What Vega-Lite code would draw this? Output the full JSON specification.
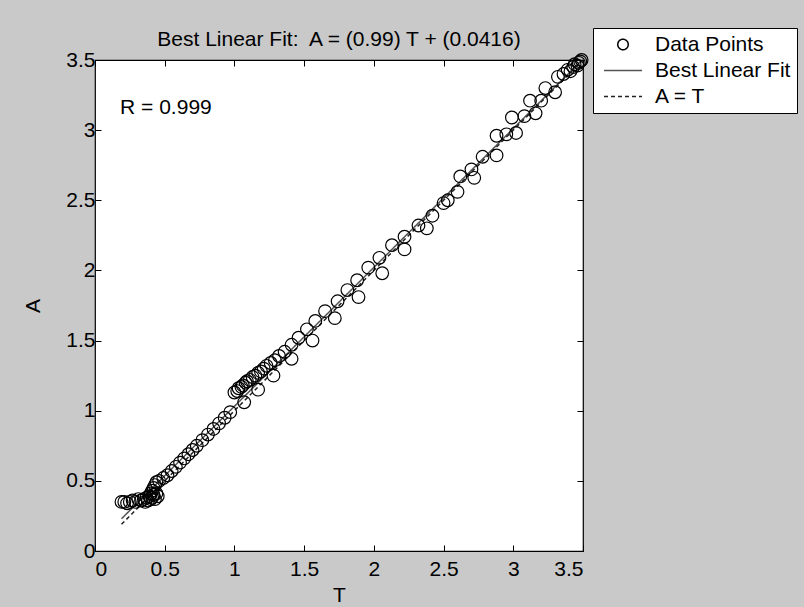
{
  "$schema": "https://vega.github.io/schema/vega-lite/v6.json",
  "width": 488,
  "height": 491,
  "autosize": {"type": "none"},
  "padding": {"left": 95, "top": 60, "right": 221, "bottom": 56},
  "background": "#c9c9c9",
  "config": {
    "font": "Liberation Sans",
    "view": {"fill": "white", "stroke": "black", "strokeWidth": 1.2},
    "axis": {
      "grid": false,
      "domain": false,
      "tickColor": "black",
      "tickSize": -6,
      "tickWidth": 1,
      "labelFontSize": 21,
      "labelColor": "black",
      "labelFont": "Liberation Sans",
      "titleFontSize": 21,
      "titleFontWeight": "normal",
      "titleColor": "black",
      "titleFont": "Liberation Sans"
    },
    "legend": {
      "orient": "none",
      "legendX": 498,
      "legendY": -32,
      "strokeColor": "black",
      "fillColor": "white",
      "padding": 6,
      "labelFontSize": 21,
      "labelColor": "black",
      "labelFont": "Liberation Sans",
      "symbolSize": 100,
      "symbolStrokeWidth": 1.5,
      "rowPadding": 4,
      "labelOffset": 13,
      "labelLimit": 300
    }
  },
  "title": {
    "text": "Best Linear Fit:\u00a0 A = (0.99) T + (0.0416)",
    "fontSize": 21,
    "fontWeight": "normal",
    "color": "black",
    "font": "Liberation Sans",
    "offset": 12,
    "dy": 34
  },
  "datasets": {
    "lines": [
      {"series": "Best Linear Fit", "T": 0.19, "A": 0.2297},
      {"series": "Best Linear Fit", "T": 3.49, "A": 3.4967},
      {"series": "A = T", "T": 0.19, "A": 0.19},
      {"series": "A = T", "T": 3.49, "A": 3.49}
    ],
    "note": [{"T": 0.18, "A": 3.16, "label": "R = 0.999"}],
    "points": [
      {"series": "Data Points", "T": 0.19, "A": 0.35},
      {"series": "Data Points", "T": 0.21, "A": 0.35},
      {"series": "Data Points", "T": 0.23, "A": 0.34},
      {"series": "Data Points", "T": 0.25, "A": 0.35},
      {"series": "Data Points", "T": 0.27, "A": 0.36},
      {"series": "Data Points", "T": 0.29, "A": 0.35},
      {"series": "Data Points", "T": 0.31, "A": 0.37},
      {"series": "Data Points", "T": 0.33, "A": 0.36},
      {"series": "Data Points", "T": 0.35, "A": 0.37},
      {"series": "Data Points", "T": 0.36, "A": 0.35},
      {"series": "Data Points", "T": 0.37, "A": 0.38},
      {"series": "Data Points", "T": 0.38, "A": 0.36},
      {"series": "Data Points", "T": 0.39, "A": 0.39},
      {"series": "Data Points", "T": 0.40, "A": 0.37},
      {"series": "Data Points", "T": 0.40, "A": 0.41},
      {"series": "Data Points", "T": 0.41, "A": 0.38},
      {"series": "Data Points", "T": 0.41, "A": 0.43},
      {"series": "Data Points", "T": 0.42, "A": 0.40},
      {"series": "Data Points", "T": 0.42, "A": 0.45},
      {"series": "Data Points", "T": 0.43, "A": 0.37},
      {"series": "Data Points", "T": 0.43, "A": 0.47},
      {"series": "Data Points", "T": 0.44, "A": 0.41},
      {"series": "Data Points", "T": 0.44, "A": 0.49},
      {"series": "Data Points", "T": 0.45, "A": 0.39},
      {"series": "Data Points", "T": 0.46, "A": 0.50},
      {"series": "Data Points", "T": 0.49, "A": 0.52},
      {"series": "Data Points", "T": 0.52, "A": 0.54},
      {"series": "Data Points", "T": 0.55, "A": 0.57},
      {"series": "Data Points", "T": 0.58, "A": 0.60},
      {"series": "Data Points", "T": 0.61, "A": 0.63},
      {"series": "Data Points", "T": 0.64, "A": 0.66},
      {"series": "Data Points", "T": 0.67, "A": 0.69},
      {"series": "Data Points", "T": 0.70, "A": 0.72},
      {"series": "Data Points", "T": 0.73, "A": 0.75},
      {"series": "Data Points", "T": 0.77, "A": 0.79},
      {"series": "Data Points", "T": 0.81, "A": 0.83},
      {"series": "Data Points", "T": 0.85, "A": 0.87},
      {"series": "Data Points", "T": 0.89, "A": 0.91},
      {"series": "Data Points", "T": 0.93, "A": 0.95},
      {"series": "Data Points", "T": 0.97, "A": 0.99},
      {"series": "Data Points", "T": 1.00, "A": 1.13},
      {"series": "Data Points", "T": 1.02, "A": 1.14},
      {"series": "Data Points", "T": 1.03, "A": 1.16},
      {"series": "Data Points", "T": 1.05, "A": 1.17},
      {"series": "Data Points", "T": 1.06, "A": 1.18},
      {"series": "Data Points", "T": 1.08, "A": 1.20},
      {"series": "Data Points", "T": 1.09, "A": 1.21},
      {"series": "Data Points", "T": 1.11, "A": 1.22},
      {"series": "Data Points", "T": 1.13, "A": 1.24},
      {"series": "Data Points", "T": 1.15, "A": 1.25},
      {"series": "Data Points", "T": 1.17, "A": 1.27},
      {"series": "Data Points", "T": 1.19, "A": 1.28},
      {"series": "Data Points", "T": 1.21, "A": 1.30},
      {"series": "Data Points", "T": 1.23, "A": 1.32},
      {"series": "Data Points", "T": 1.26, "A": 1.34},
      {"series": "Data Points", "T": 1.29, "A": 1.36},
      {"series": "Data Points", "T": 1.32, "A": 1.39},
      {"series": "Data Points", "T": 1.07, "A": 1.06},
      {"series": "Data Points", "T": 1.17, "A": 1.15},
      {"series": "Data Points", "T": 1.28, "A": 1.25},
      {"series": "Data Points", "T": 1.41, "A": 1.37},
      {"series": "Data Points", "T": 1.56, "A": 1.50},
      {"series": "Data Points", "T": 1.72, "A": 1.66},
      {"series": "Data Points", "T": 1.89, "A": 1.81},
      {"series": "Data Points", "T": 2.06, "A": 1.98},
      {"series": "Data Points", "T": 2.22, "A": 2.15},
      {"series": "Data Points", "T": 2.38, "A": 2.30},
      {"series": "Data Points", "T": 2.60, "A": 2.56},
      {"series": "Data Points", "T": 2.72, "A": 2.66},
      {"series": "Data Points", "T": 2.88, "A": 2.82},
      {"series": "Data Points", "T": 3.02, "A": 2.98},
      {"series": "Data Points", "T": 3.16, "A": 3.12},
      {"series": "Data Points", "T": 3.30, "A": 3.27},
      {"series": "Data Points", "T": 1.36, "A": 1.42},
      {"series": "Data Points", "T": 1.41, "A": 1.47},
      {"series": "Data Points", "T": 1.46, "A": 1.52},
      {"series": "Data Points", "T": 1.52, "A": 1.58},
      {"series": "Data Points", "T": 1.58, "A": 1.64},
      {"series": "Data Points", "T": 1.65, "A": 1.71},
      {"series": "Data Points", "T": 1.74, "A": 1.78},
      {"series": "Data Points", "T": 1.81, "A": 1.86},
      {"series": "Data Points", "T": 1.88, "A": 1.93},
      {"series": "Data Points", "T": 1.96, "A": 2.02},
      {"series": "Data Points", "T": 2.04, "A": 2.09},
      {"series": "Data Points", "T": 2.13, "A": 2.18},
      {"series": "Data Points", "T": 2.22, "A": 2.24},
      {"series": "Data Points", "T": 2.32, "A": 2.32},
      {"series": "Data Points", "T": 2.42, "A": 2.39},
      {"series": "Data Points", "T": 2.50, "A": 2.48},
      {"series": "Data Points", "T": 2.53, "A": 2.50},
      {"series": "Data Points", "T": 2.62, "A": 2.67},
      {"series": "Data Points", "T": 2.70, "A": 2.72},
      {"series": "Data Points", "T": 2.78, "A": 2.81},
      {"series": "Data Points", "T": 2.88, "A": 2.96},
      {"series": "Data Points", "T": 2.95, "A": 2.97},
      {"series": "Data Points", "T": 2.99, "A": 3.09},
      {"series": "Data Points", "T": 3.08, "A": 3.10},
      {"series": "Data Points", "T": 3.12, "A": 3.21},
      {"series": "Data Points", "T": 3.20, "A": 3.21},
      {"series": "Data Points", "T": 3.23, "A": 3.30},
      {"series": "Data Points", "T": 3.32, "A": 3.38},
      {"series": "Data Points", "T": 3.36, "A": 3.40},
      {"series": "Data Points", "T": 3.39, "A": 3.43},
      {"series": "Data Points", "T": 3.41, "A": 3.42},
      {"series": "Data Points", "T": 3.43, "A": 3.45},
      {"series": "Data Points", "T": 3.44, "A": 3.47},
      {"series": "Data Points", "T": 3.46, "A": 3.46},
      {"series": "Data Points", "T": 3.47, "A": 3.48},
      {"series": "Data Points", "T": 3.48, "A": 3.49},
      {"series": "Data Points", "T": 3.49, "A": 3.50}
    ]
  },
  "layer": [
    {
      "data": {"name": "lines"},
      "mark": {"type": "line", "strokeWidth": 1.5},
      "encoding": {
        "x": {"field": "T", "type": "quantitative", "scale": {"domain": [0, 3.5], "nice": false},
              "axis": {"orient": "top", "labels": false, "title": null, "values": [0, 0.5, 1, 1.5, 2, 2.5, 3, 3.5]}},
        "y": {"field": "A", "type": "quantitative", "scale": {"domain": [0, 3.5], "nice": false},
              "axis": {"orient": "right", "labels": false, "title": null, "values": [0, 0.5, 1, 1.5, 2, 2.5, 3, 3.5]}},
        "color": {"field": "series", "type": "nominal",
                  "scale": {"domain": ["Data Points", "Best Linear Fit", "A = T"], "range": ["#000000", "#555555", "#222222"]},
                  "legend": {
                    "title": null,
                    "encode": {
                      "symbols": {
                        "update": {
                          "x": {"value": 24},
                          "shape": {"signal": "datum.value === 'Data Points' ? 'circle' : 'M-2,0L2,0'"},
                          "size": {"signal": "datum.value === 'Data Points' ? 110 : 361"},
                          "fill": {"value": "transparent"},
                          "stroke": {"signal": "datum.value === 'Best Linear Fit' ? '#555555' : '#000000'"},
                          "strokeDash": {"signal": "datum.value === 'A = T' ? [4, 3] : [1, 0]"},
                          "strokeWidth": {"value": 1.5},
                          "opacity": {"value": 1}
                        }
                      },
                      "labels": {
                        "update": {
                          "x": {"value": 56}
                        }
                      }
                    }
                  }},
        "strokeDash": {"field": "series", "type": "nominal", "legend": null,
                       "scale": {"domain": ["Data Points", "Best Linear Fit", "A = T"], "range": [[1, 0], [1, 0], [4, 3]]}}
      }
    },
    {
      "data": {"name": "points"},
      "mark": {"type": "point", "filled": false, "size": 160, "strokeWidth": 1.2, "opacity": 1, "shape": "circle"},
      "encoding": {
        "x": {"field": "T", "type": "quantitative", "scale": {"domain": [0, 3.5], "nice": false},
              "axis": {"orient": "bottom", "title": "T", "values": [0, 0.5, 1, 1.5, 2, 2.5, 3, 3.5], "format": "~g", "labelPadding": 13, "titlePadding": 5}},
        "y": {"field": "A", "type": "quantitative", "scale": {"domain": [0, 3.5], "nice": false},
              "axis": {"orient": "left", "title": "A", "values": [0, 0.5, 1, 1.5, 2, 2.5, 3, 3.5], "format": "~g", "labelPadding": 6, "titlePadding": 22}},
        "color": {"field": "series", "type": "nominal",
                  "scale": {"domain": ["Data Points", "Best Linear Fit", "A = T"], "range": ["#000000", "#555555", "#222222"]}}
      }
    },
    {
      "data": {"name": "note"},
      "mark": {"type": "text", "align": "left", "baseline": "middle", "fontSize": 21, "font": "Liberation Sans", "color": "black"},
      "encoding": {
        "x": {"field": "T", "type": "quantitative", "scale": {"domain": [0, 3.5], "nice": false}, "axis": null},
        "y": {"field": "A", "type": "quantitative", "scale": {"domain": [0, 3.5], "nice": false}, "axis": null},
        "text": {"field": "label"}
      }
    }
  ],
  "resolve": {"scale": {"x": "independent", "y": "independent"}}
}
